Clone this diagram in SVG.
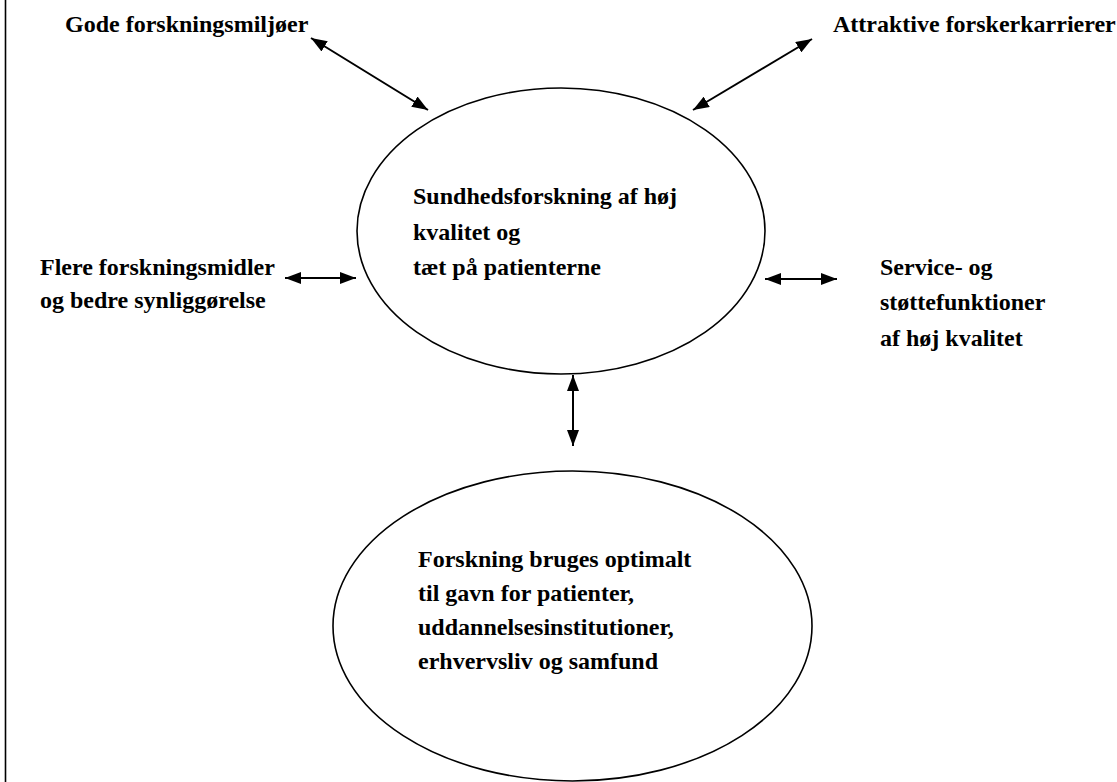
<svg xmlns="http://www.w3.org/2000/svg" width="1117" height="782" viewBox="0 0 1117 782">
<defs>
<marker id="ah" viewBox="0 0 16 12" refX="16" refY="6" markerWidth="16" markerHeight="12" markerUnits="userSpaceOnUse" orient="auto-start-reverse">
<path d="M0,0 L16,6 L0,12 z" fill="#000"/>
</marker>
<style>
text{font-family:"Liberation Serif","Times New Roman",serif;font-weight:bold;font-size:24px;fill:#000}
.c line{stroke:#000;stroke-width:2;marker-start:url(#ah);marker-end:url(#ah)}
ellipse{fill:#fff;stroke:#000;stroke-width:1.6}
</style>
</defs>
<rect width="1117" height="782" fill="#fff"/>
<line x1="5.5" y1="0" x2="5.5" y2="782" stroke="#000" stroke-width="1.6"/>
<g class="c" id="connectors">
<line x1="311" y1="38" x2="428" y2="110"/>
<line x1="812" y1="39" x2="693" y2="110"/>
<line x1="285" y1="278" x2="356" y2="278"/>
<line x1="765" y1="279" x2="837" y2="279"/>
<line x1="573" y1="375" x2="573" y2="446"/>
</g>
<g id="center">
<ellipse cx="561" cy="231" rx="204" ry="143"/>
<text x="413" y="204">Sundhedsforskning af høj</text>
<text x="413" y="240">kvalitet og</text>
<text x="413" y="275">tæt på patienterne</text>
</g>
<g id="bottom">
<ellipse cx="572.5" cy="626" rx="239.5" ry="155"/>
<text x="418" y="567">Forskning bruges optimalt</text>
<text x="418" y="601">til gavn for patienter,</text>
<text x="418" y="635">uddannelsesinstitutioner,</text>
<text x="418" y="669">erhvervsliv og samfund</text>
</g>
<g id="topleft"><text x="65" y="32">Gode forskningsmiljøer</text></g>
<g id="topright"><text x="833" y="32">Attraktive forskerkarrierer</text></g>
<g id="left">
<text x="40" y="275">Flere forskningsmidler</text>
<text x="40" y="308">og bedre synliggørelse</text>
</g>
<g id="right">
<text x="880" y="275">Service- og</text>
<text x="880" y="310">støttefunktioner</text>
<text x="880" y="346">af høj kvalitet</text>
</g>
</svg>
